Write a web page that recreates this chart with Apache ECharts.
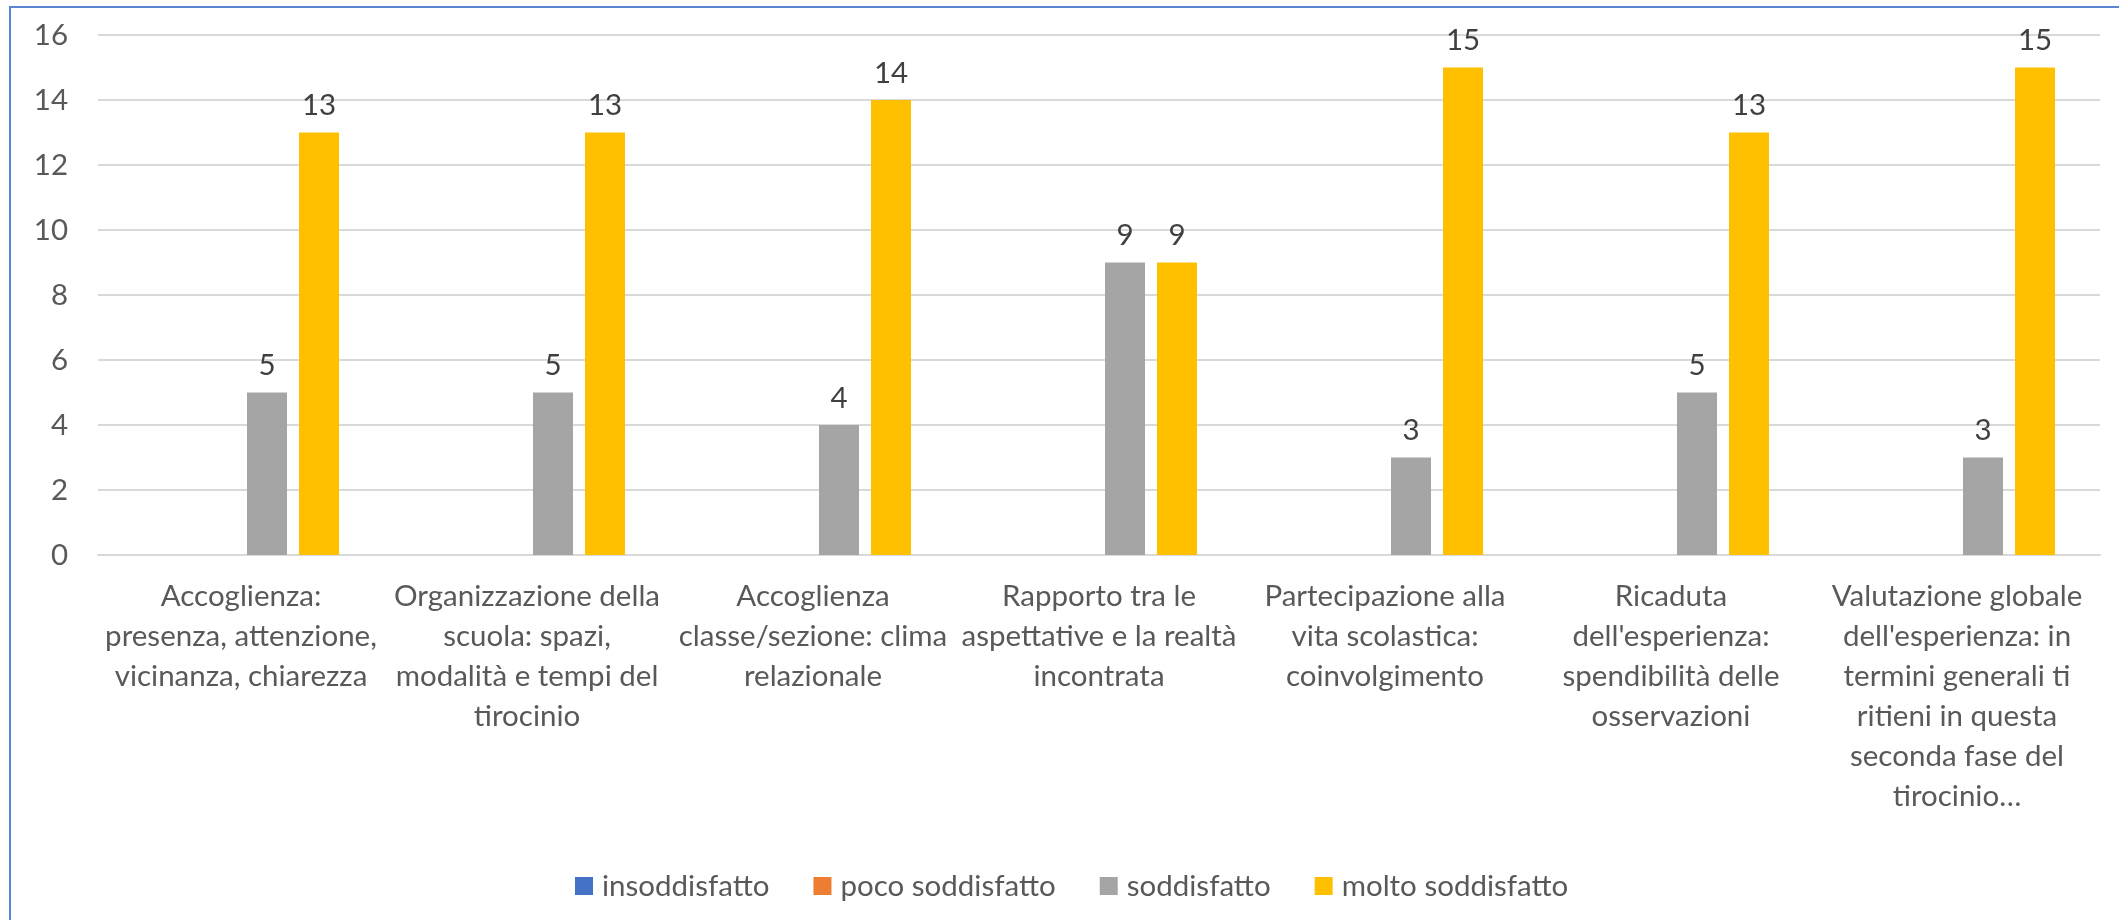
<!DOCTYPE html>
<html>
<head>
<meta charset="utf-8">
<script src="https://cdn.jsdelivr.net/npm/echarts@6/dist/echarts.min.js"></script>
<style>
  html, body { margin: 0; padding: 0; background: #fff; }
  #frame {
    position: absolute; left: 9px; top: 6px; width: 2110px; height: 914px;
    border-top: 2px solid #5a85d3; border-left: 2px solid #5a85d3;
  }
  #chart { position: absolute; left: 0; top: 0; width: 2119px; height: 920px; }
</style>
</head>
<body>
<div id="frame"></div>
<div id="chart"></div>
<script>
const categories = [
  'Accoglienza:\npresenza, attenzione,\nvicinanza, chiarezza',
  'Organizzazione della\nscuola: spazi,\nmodalità e tempi del\ntirocinio',
  'Accoglienza\nclasse/sezione: clima\nrelazionale',
  'Rapporto tra le\naspettative e la realtà\nincontrata',
  'Partecipazione alla\nvita scolastica:\ncoinvolgimento',
  'Ricaduta\ndell\'esperienza:\nspendibilità delle\nosservazioni',
  'Valutazione globale\ndell\'esperienza: in\ntermini generali ti\nritieni in questa\nseconda fase del\ntirocinio…'
]
const insoddisfatto = [0, 0, 0, 0, 0, 0, 0]
const pocoSoddisfatto = [0, 0, 0, 0, 0, 0, 0]
const soddisfatto = [5, 5, 4, 9, 3, 5, 3]
const moltoSoddisfatto = [13, 13, 14, 9, 15, 13, 15]

const seriesDefs = [
  { name: 'insoddisfatto', data: insoddisfatto, color: '#4472C4' },
  { name: 'poco soddisfatto', data: pocoSoddisfatto, color: '#ED7D31' },
  { name: 'soddisfatto', data: soddisfatto, color: '#A5A5A5' },
  { name: 'molto soddisfatto', data: moltoSoddisfatto, color: '#FFC000' }
]

const font = 'Lato'
const fs = 29.5
const chart = echarts.init(document.getElementById('chart'))

chart.setOption({
  animation: false,
  backgroundColor: 'transparent',
  textStyle: { fontFamily: font },
  grid: { left: 98, right: 19, top: 35, bottom: 365 },
  legend: {
    left: 570,
    top: 866,
    icon: 'rect',
    itemWidth: 18,
    itemHeight: 18,
    itemGap: 44,
    textStyle: { fontFamily: font, fontSize: fs, color: '#595959', padding: [0, 0, 0, 4] },
    data: seriesDefs.map(s => s.name)
  },
  xAxis: {
    type: 'category',
    data: categories,
    axisTick: { show: false },
    axisLine: { lineStyle: { color: '#d9d9d9', width: 2 } },
    axisLabel: {
      interval: 0,
      margin: 21,
      fontFamily: font,
      fontSize: fs,
      lineHeight: 40,
      color: '#595959',
      align: 'center'
    }
  },
  yAxis: {
    type: 'value',
    min: 0,
    max: 16,
    interval: 2,
    axisLine: { show: false },
    axisTick: { show: false },
    axisLabel: { margin: 30, fontFamily: font, fontSize: fs, color: '#595959' },
    splitLine: { lineStyle: { color: '#d9d9d9', width: 2 } }
  },
  series: seriesDefs.map(s => ({
    name: s.name,
    type: 'bar',
    data: s.data,
    barWidth: 40,
    barGap: '30%',
    itemStyle: { color: s.color },
    label: {
      show: true,
      position: 'top',
      distance: 12,
      fontFamily: font,
      fontSize: fs,
      color: '#404040',
      formatter: p => (p.value === 0 ? '' : p.value)
    }
  }))
})
</script>
</body>
</html>
